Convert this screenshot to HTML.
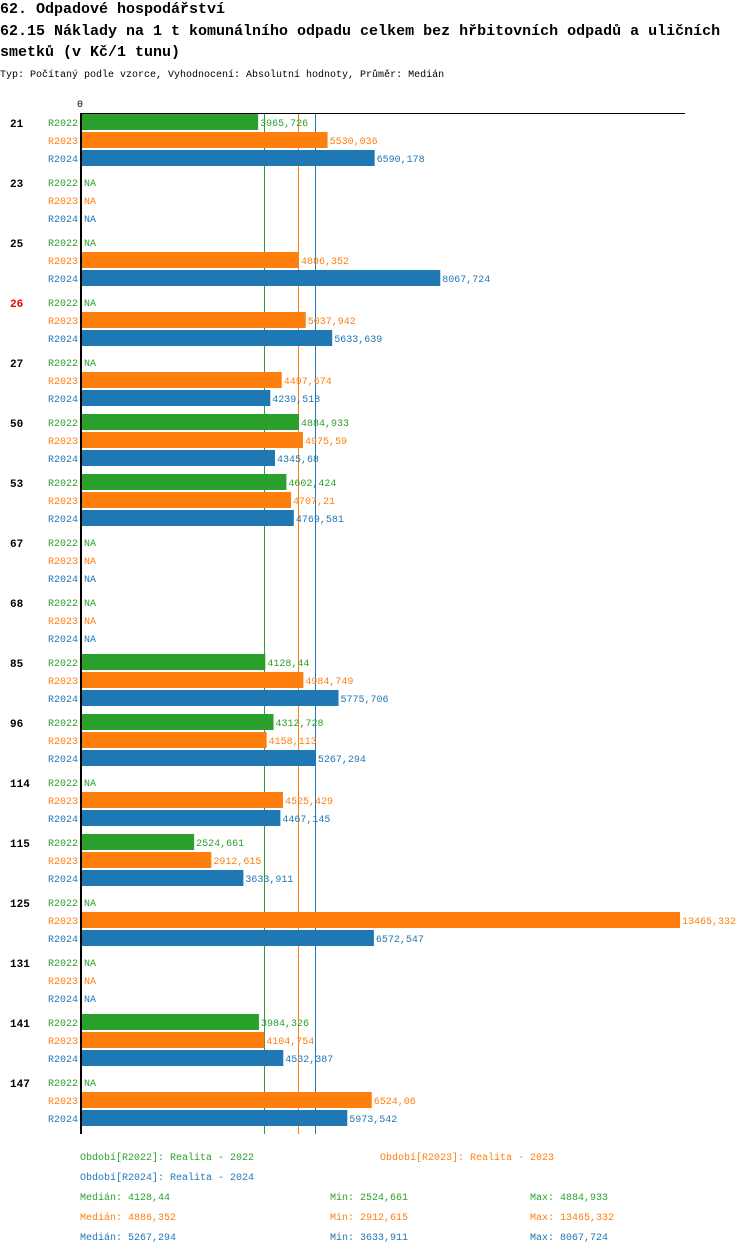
<!DOCTYPE html>
<html><head><meta charset="utf-8"><style>
body{margin:0;background:#fff;width:750px;height:1254px;overflow:hidden}
svg{font-family:"Liberation Mono",monospace}
</style></head><body>
<svg id="c" width="750" height="1254" xmlns="http://www.w3.org/2000/svg">
<text x="0" y="13" font-size="15" font-weight="bold">62. Odpadové hospodářství</text>
<text x="0" y="35" font-size="15" font-weight="bold">62.15 Náklady na 1 t komunálního odpadu celkem bez hřbitovních odpadů a uličních</text>
<text x="0" y="56" font-size="15" font-weight="bold">smetků (v Kč/1 tunu)</text>
<text x="0" y="77" font-size="10">Typ: Počítaný podle vzorce, Vyhodnocení: Absolutní hodnoty, Průměr: Medián</text>
<g id="plot"></g>
<g id="legend"></g>
</svg>
<script>
const groups=["21","23","25","26","27","50","53","67","68","85","96","114","115","125","131","141","147"];
const series=["R2022","R2023","R2024"];
const v2022=[3965.726,null,null,null,null,4884.933,4602.424,null,null,4128.44,4312.728,null,2524.661,null,null,3984.326,null];
const v2023=[5530.036,null,4886.352,5037.942,4497.674,4975.59,4707.21,null,null,4984.749,4158.113,4525.429,2912.615,13465.332,null,4104.754,6524.06];
const v2024=[6590.178,null,8067.724,5633.639,4239.518,4345.68,4769.581,null,null,5775.706,5267.294,4467.145,3633.911,6572.547,null,4532.387,5973.542];
const medians=[4128.44,4886.352,5267.294];
const mins=[2524.661,2912.615,3633.911];
const maxs=[4884.933,13465.332,8067.724];
const colors=["#2ca02c","#ff7f0e","#1f77b4"];
const highlight="26";
const vals=[v2022,v2023,v2024];
const NS="http://www.w3.org/2000/svg";
const x0=82, xMax=13465.332, wMax=598;
const xs=v=>x0+v/xMax*wMax;
const plot=document.getElementById('plot');
function el(t,a,p,txt){const e=document.createElementNS(NS,t);for(const k in a)e.setAttribute(k,a[k]);if(txt!=null)e.textContent=txt;(p||plot).appendChild(e);return e;}
const fmt=v=>String(v).replace('.',',');
const topY=113.5, gH=60, bottomY=1134;
medians.forEach((m,i)=>{const lx=Math.round(xs(m))-0.5;const l=el('line',{x1:lx,x2:lx,y1:topY,y2:bottomY,stroke:colors[i],'stroke-width':1});

});
groups.forEach((g,gi)=>{
  const gy=114+gi*gH;
  const gl=el('text',{x:10,y:gy+13,'font-size':11,'font-weight':'bold',fill:g===highlight?'#e00':'#000'},null,g);
  
  
  series.forEach((s,si)=>{
    const y=gy+si*18, v=vals[si][gi];
    const sl=el('text',{x:78,y:y+12,'font-size':10,fill:colors[si],'text-anchor':'end'},null,s);
    
    
    if(v==null){
      const na=el('text',{x:84,y:y+12,'font-size':10,fill:colors[si]},null,'NA');
      
      
    }else{
      const r=el('rect',{x:x0,y:y,width:xs(v)-x0,height:16,fill:colors[si]});
      
      
      const t=el('text',{x:xs(v)+2,y:y+12,'font-size':10,fill:colors[si]},null,fmt(v));
      
      
    }
  });
});
const ax=el('line',{x1:80,x2:685,y1:topY,y2:topY,stroke:'#000','stroke-width':1});


const ay=el('line',{x1:81,x2:81,y1:113,y2:bottomY,stroke:'#000','stroke-width':2});


const z=el('text',{x:80,y:107,'font-size':10,'text-anchor':'middle'},null,'0');


const lg=document.getElementById('legend');
const labels=["Období[R2022]: Realita - 2022","Období[R2023]: Realita - 2023","Období[R2024]: Realita - 2024"];
const lp=[[80,1160],[380,1160],[80,1180]];
labels.forEach((t,i)=>{const e=el('text',{x:lp[i][0],y:lp[i][1],'font-size':10,fill:colors[i]},lg,t);

});
series.forEach((s,i)=>{const y=1200+i*20;
const a=el('text',{x:80,y:y,'font-size':10,fill:colors[i]},lg,'Medián: '+fmt(medians[i]));


const b=el('text',{x:330,y:y,'font-size':10,fill:colors[i]},lg,'Min: '+fmt(mins[i]));


const c=el('text',{x:530,y:y,'font-size':10,fill:colors[i]},lg,'Max: '+fmt(maxs[i]));

});
</script>
</body></html>
